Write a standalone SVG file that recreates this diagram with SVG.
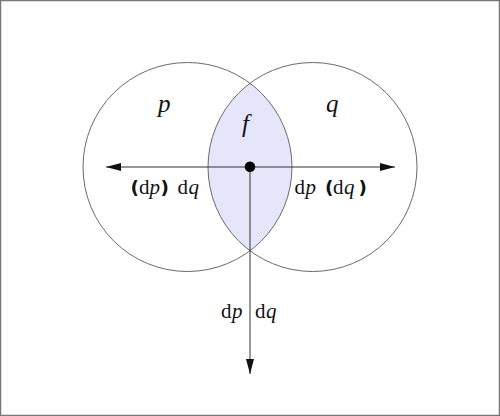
<svg xmlns="http://www.w3.org/2000/svg" width="500" height="416" viewBox="0 0 500 416">
  <style>
    .circ { fill: none; stroke: #6a6a6a; stroke-width: 1; }
    .lens { fill: #e6e6fb; stroke: none; }
    .conn { stroke: #333; stroke-width: 1; fill: none; }
    .lbl { font-family: "Liberation Serif", "Times New Roman", serif; font-size: 21px; fill: #111; }
    .big { font-family: "Liberation Serif", "Times New Roman", serif; font-size: 25px; font-style: italic; fill: #111; }
    .it { font-style: italic; }
    .par { font-family: "DejaVu Sans", sans-serif; font-weight: bold; font-size: 18.5px; }
  </style>
  <defs>
    <marker id="arr" markerWidth="16" markerHeight="10" refX="15" refY="4" orient="auto" markerUnits="userSpaceOnUse" viewBox="0 0 16 8">
      <path d="M0,0 L15,4 L0,8 Z" fill="#111"/>
    </marker>
  </defs>
  <rect x="0.5" y="0.5" width="499" height="415" fill="#fff" stroke="#777" stroke-width="1.5"/>
  <g id="f-region">
    <path class="lens" d="M250,83.25 A104.5,104.5 0 0 1 250,250.75 A104.5,104.5 0 0 1 250,83.25 Z"/>
  </g>
  <g id="p">
    <circle class="circ" cx="187.5" cy="167" r="104.5"/>
    <text class="big" x="158" y="112">p</text>
  </g>
  <g id="q">
    <circle class="circ" cx="312.5" cy="167" r="104.5"/>
    <text class="big" x="326" y="112">q</text>
  </g>
  <g id="f">
    <text class="big" x="242" y="132">f</text>
  </g>
  <g id="connectors">
    <line class="conn" x1="250" y1="167" x2="106" y2="167" marker-end="url(#arr)"/>
    <line class="conn" x1="250" y1="167" x2="395" y2="167" marker-end="url(#arr)"/>
    <line class="conn" x1="250" y1="167" x2="250" y2="374" marker-end="url(#arr)"/>
  </g>
  <g id="center">
    <circle cx="250" cy="166.8" r="5.3" fill="#000"/>
  </g>
  <g id="labels">
    <text class="lbl" y="193.5"><tspan class="par" x="130.5">(</tspan><tspan x="139">d</tspan><tspan class="it" x="149.5">p</tspan><tspan class="par" x="160.5">)</tspan><tspan x="177.5">d</tspan><tspan class="it" x="188.5">q</tspan></text>
    <text class="lbl" y="193.5"><tspan x="294.5">d</tspan><tspan class="it" x="305.5">p</tspan><tspan class="par" x="325">(</tspan><tspan x="333">d</tspan><tspan class="it" x="344">q</tspan><tspan class="par" x="358.5">)</tspan></text>
    <text class="lbl" y="318"><tspan x="221">d</tspan><tspan class="it" x="232">p</tspan></text>
    <text class="lbl" y="318"><tspan x="255">d</tspan><tspan class="it" x="266">q</tspan></text>
  </g>
</svg>
